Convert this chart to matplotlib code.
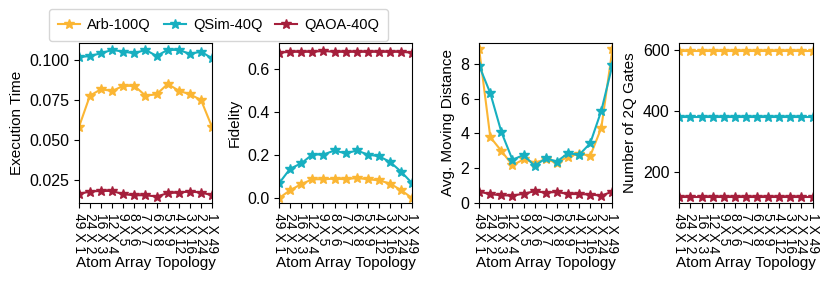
import matplotlib
matplotlib.use("Agg")
import matplotlib.pyplot as plt

plt.rcParams['font.family'] = ['Liberation Sans', 'DejaVu Sans']

# topology labels (rows X cols)
topologies = ["49 X 1", "24 X 2", "16 X 3", "12 X 4", "9 X 5", "8 X 6", "7 X 7",
              "6 X 8", "5 X 9", "4 X 12", "3 X 16", "2 X 24", "1 X 49"]

series_names = ["Arb-100Q", "QSim-40Q", "QAOA-40Q"]
colors = ["#FBB634", "#17AFC0", "#A51F3C"]

# execution time
exec_arb = [0.0579, 0.0777, 0.0817, 0.0806, 0.0838, 0.0838, 0.0777,
            0.0785, 0.0850, 0.0808, 0.0785, 0.0750, 0.0579]
exec_qsim = [0.1017, 0.1025, 0.1042, 0.1063, 0.1052, 0.1042, 0.1063,
             0.1025, 0.1063, 0.1063, 0.1038, 0.1052, 0.1010]
exec_qaoa = [0.0162, 0.0177, 0.0181, 0.0181, 0.0160, 0.0154, 0.0154,
             0.0146, 0.0167, 0.0171, 0.0177, 0.0171, 0.0154]

# fidelity
fid_arb = [0.000, 0.037, 0.065, 0.088, 0.088, 0.091, 0.088,
           0.094, 0.088, 0.083, 0.068, 0.037, 0.000]
fid_qsim = [0.069, 0.137, 0.162, 0.203, 0.203, 0.222, 0.208,
            0.222, 0.203, 0.195, 0.169, 0.123, 0.069]
fid_qaoa = [0.677, 0.681, 0.681, 0.681, 0.685, 0.681, 0.681,
            0.681, 0.681, 0.681, 0.681, 0.681, 0.677]

# avg. moving distance
dist_arb = [8.84, 3.79, 2.99, 2.17, 2.50, 2.32, 2.50,
            2.32, 2.65, 2.84, 2.70, 4.32, 8.84]
dist_qsim = [7.89, 6.32, 4.08, 2.48, 2.76, 2.13, 2.57,
             2.38, 2.86, 2.76, 3.43, 5.30, 7.94]
dist_qaoa = [0.65, 0.50, 0.44, 0.42, 0.53, 0.67, 0.59,
             0.63, 0.51, 0.51, 0.48, 0.42, 0.65]

# number of 2Q gates
gates_arb = [598] * 13
gates_qsim = [380] * 13
gates_qaoa = [115] * 13

panels = [
    ("Execution Time", [exec_arb, exec_qsim, exec_qaoa], (0.0106, 0.1106), [0.025, 0.050, 0.075, 0.100]),
    ("Fidelity", [fid_arb, fid_qsim, fid_qaoa], (-0.022, 0.722), [0.0, 0.2, 0.4, 0.6]),
    ("Avg. Moving Distance", [dist_arb, dist_qsim, dist_qaoa], (0, 9.2), [0, 2, 4, 6, 8]),
    ("Number of 2Q Gates", [gates_arb, gates_qsim, gates_qaoa], (97, 624), [200, 400, 600]),
]

fig, axes = plt.subplots(1, 4, figsize=(8.3, 2.83), dpi=100)
plt.subplots_adjust(left=0.095, right=0.979, bottom=0.283, top=0.848, wspace=0.502)

x = list(range(len(topologies)))
for ax, (ylabel, data, ylim, yticks) in zip(axes, panels):
    for vals, name, c in zip(data, series_names, colors):
        ax.plot(x, vals, marker='*', markersize=7.5, linewidth=1.5, color=c, label=name)
    ax.set_xlim(0, len(topologies) - 1)
    ax.set_ylim(*ylim)
    ax.set_yticks(yticks)
    ax.set_xticks(x)
    ax.set_xticklabels(topologies, rotation=270, fontsize=10, va='top', ha='center')
    ax.tick_params(axis='y', labelsize=11.5)
    ax.set_ylabel(ylabel, fontsize=11)
    ax.set_xlabel("Atom Array Topology", fontsize=11, labelpad=2)

handles, labels = axes[0].get_legend_handles_labels()
fig.legend(handles, labels, loc='upper left', bbox_to_anchor=(0.059, 0.968), ncol=3,
           fontsize=10.5, handlelength=1.5, handletextpad=0.5, columnspacing=0.9,
           borderpad=0.6, borderaxespad=0)

plt.savefig("out.png")
